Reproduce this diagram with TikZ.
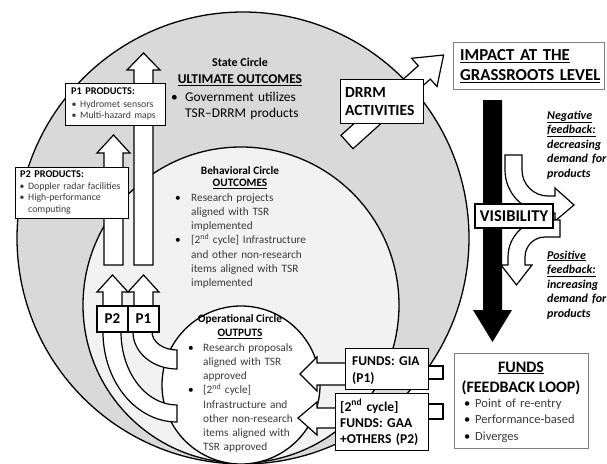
\documentclass[tikz,border=0pt]{standalone}
\usepackage{fontspec}
\setmainfont{Carlito}
\definecolor{outergray}{HTML}{D9D9D9}
\definecolor{behgray}{HTML}{F2F2F2}
\definecolor{bodytext}{HTML}{3A3A3A}
\definecolor{framegray}{HTML}{808080}
\begin{document}
\begin{tikzpicture}[x=1pt,y=-1pt,line join=miter,
  ol/.style={draw=black,line width=1.2pt},
  wbox/.style={ol,fill=white},
  gbox/.style={draw=framegray,line width=0.9pt,fill=white},
  emptybox/.style={wbox,inner sep=0pt,anchor=north west},
  txt/.style={inner sep=0pt,anchor=base west,align=left,text width=#1},
  txt/.default=150pt,
  ctxt/.style={inner sep=0pt,anchor=base},
  body/.style={font=\fontsize{11.3}{14.15}\selectfont,text=bodytext},
  ctitle/.style={font=\bfseries\fontsize{11.3}{14}\selectfont}]
\useasboundingbox (0,0) rectangle (607,463);
\clip (0,0) rectangle (607,463);

% circles
\path[ol,line width=1.3pt,fill=outergray] (243,238) circle[radius=226];
\path[ol,line width=1.3pt,fill=behgray] (241,305) circle[radius=158];
\path[ol,line width=1.3pt,fill=white] (241,385) circle[radius=79];

% tall product arrows
\path[wbox] (104,265) -- (104,153) -- (97,153) -- (113.5,135) -- (130,153) -- (123,153) -- (123,265) -- cycle;
\path[wbox] (134,265) -- (134,70) -- (127,70) -- (143.5,53) -- (160,70) -- (153,70) -- (153,265) -- cycle;

% product boxes
\node[emptybox,minimum width=100pt,minimum height=42pt] (p1box) at (65,83) {};
\node[emptybox,minimum width=113pt,minimum height=51pt] (p2box) at (15,167) {};
\node[txt=95pt,font=\bfseries\fontsize{10.3}{11}\selectfont] (p1title) at (71,94) {P1 PRODUCTS:};
\node[txt=95pt,font=\fontsize{9.8}{11}\selectfont,text=bodytext] (p1list) at (71.5,107) {\makebox[8.5pt][l]{•}Hydromet sensors\\\makebox[8.5pt][l]{•}Multi-hazard maps};
\node[txt=110pt,font=\bfseries\fontsize{10.3}{11}\selectfont] (p2title) at (20,177) {P2 PRODUCTS:};
\node[txt=110pt,font=\fontsize{9.8}{11.6}\selectfont,text=bodytext] (p2list) at (19.5,189) {\makebox[8.5pt][l]{•}Doppler radar facilities\\\makebox[8.5pt][l]{•}High-performance\\\hspace*{8.5pt}computing};

% curved bands from the operational circle
\path[wbox] (103,332) arc[start angle=180,end angle=90,x radius=74,y radius=90] -- (177,405) arc[start angle=90,end angle=180,x radius=56,y radius=73] -- cycle;
\path[wbox] (133,332) arc[start angle=180,end angle=90,x radius=44,y radius=37] -- (177,350) arc[start angle=90,end angle=180,x radius=25,y radius=18] -- cycle;

% small arrows above P boxes
\path[wbox] (103,306) -- (103,292) -- (97,292) -- (112.5,275) -- (128,292) -- (122,292) -- (122,306) -- cycle;
\path[wbox] (134,306) -- (134,292) -- (128,292) -- (143.5,275) -- (159,292) -- (153,292) -- (153,306) -- cycle;
\node[wbox,inner sep=0pt,minimum width=31pt,minimum height=26pt,font=\bfseries\fontsize{15}{16}\selectfont] (p2) at (112.5,319) {P2};
\node[wbox,inner sep=0pt,minimum width=31pt,minimum height=26pt,font=\bfseries\fontsize{15}{16}\selectfont] (p1) at (143.5,319) {P1};

% DRRM arrow and box
\begin{scope}[shift={(347,142)},rotate=42]
\path[wbox] (0,-9) -- (104,-9) -- (104,-19) -- (130,0) -- (104,19) -- (104,9) -- (0,9) -- cycle;
\end{scope}
\node[emptybox,minimum width=83pt,minimum height=44pt] (drrm) at (340,79) {};
\node[txt=80pt,font=\bfseries\fontsize{15.5}{18}\selectfont] (drrmtext) at (345,97) {DRRM\\ACTIVITIES};

% impact box
\node[gbox,inner sep=0pt,anchor=north west,minimum width=151pt,minimum height=47pt] (impact) at (453,42) {};
\node[txt=150pt,font=\bfseries\fontsize{16.8}{20}\selectfont] (impacttext) at (460,60.5) {\underline{IMPACT AT THE}\\\underline{GRASSROOTS LEVEL}};

% black arrow
\path[fill=black] (483,100) -- (502,100) -- (502,310) -- (512,310) -- (492.5,342) -- (473,310) -- (483,310) -- cycle;

% feedback arrows
\path[wbox] (505,155) -- (505,170) arc[start angle=180,end angle=90,radius=43] -- (555,213) -- (555,221) -- (574,205) -- (555,188) -- (555,196) -- (548,196) arc[start angle=90,end angle=180,radius=26] -- (522,155) -- cycle;
\path[wbox] (560,220) -- (545,220) arc[start angle=270,end angle=180,radius=37] -- (508,265) -- (501,265) -- (516.5,285) -- (532,265) -- (525,265) -- (525,257) arc[start angle=180,end angle=270,radius=20] -- (560,237) -- cycle;
\node[wbox,inner sep=0pt,minimum width=78pt,minimum height=24pt,font=\bfseries\fontsize{16.5}{18}\selectfont] (vis) at (514,216) {VISIBILITY};

\node[txt=100pt,font=\bfseries\itshape\fontsize{12}{14.5}\selectfont] (neg) at (547,119) {\underline{Negative}\\\underline{feedback:}\\decreasing\\demand for\\products};
\node[txt=100pt,font=\bfseries\itshape\fontsize{12}{14.5}\selectfont] (pos) at (547,259) {\underline{Positive}\\\underline{feedback:}\\increasing\\demand for\\products};

% funds box
\node[gbox,inner sep=0pt,anchor=north west,minimum width=134pt,minimum height=95pt] (funds) at (454,353) {};
\node[ctxt,font=\bfseries\fontsize{16}{18}\selectfont] (fundstitle) at (521,372) {\underline{FUNDS}};
\node[ctxt,font=\bfseries\fontsize{16}{18}\selectfont] (fundsloop) at (521,392) {(FEEDBACK LOOP)};
\node[txt=125pt,font=\fontsize{12.5}{16.7}\selectfont,text=bodytext] (fundslist) at (464,407) {\makebox[11pt][l]{\textcolor{black}{•}}Point of re-entry\\\makebox[11pt][l]{\textcolor{black}{•}}Performance-based\\\makebox[11pt][l]{\textcolor{black}{•}}Diverges};

% funds arrows and boxes
\path[wbox] (428,366) rectangle (443,379);
\path[wbox] (350,363) -- (317,363) -- (317,357) -- (300,374) -- (317,391) -- (317,385) -- (350,385) -- cycle;
\node[emptybox,minimum width=83pt,minimum height=41pt] (gia) at (345,348) {};
\node[txt=80pt,font=\bfseries\fontsize{13.5}{17.5}\selectfont] (giatext) at (352,365) {FUNDS: GIA\\(P1)};
\path[wbox] (428,404) rectangle (443,419);
\path[wbox] (340,408) -- (317,408) -- (317,402) -- (298,418) -- (317,435) -- (317,428) -- (340,428) -- cycle;
\node[emptybox,minimum width=93pt,minimum height=57pt] (gaa) at (335,393) {};
\node[txt=90pt,font=\bfseries\fontsize{13.5}{16.2}\selectfont] (gaatext) at (340,411) {[2\textsuperscript{nd} cycle]\\FUNDS: GAA\\+OTHERS (P2)};

% state circle text
\node[ctxt,font=\bfseries\fontsize{12}{14}\selectfont] (statetitle) at (240,66) {State Circle};
\node[ctxt,font=\bfseries\fontsize{13.5}{16}\selectfont] (stateout) at (240,83.5) {\underline{ULTIMATE OUTCOMES}};
\node[txt=140pt,font=\fontsize{13.4}{16}\selectfont] (statelist) at (171,101) {\makebox[14pt][l]{•}Government utilizes\\\hspace*{14pt}TSR–DRRM products};

% behavioral circle text
\node[ctxt,ctitle] (behtitle) at (240,174) {Behavioral Circle};
\node[ctxt,ctitle] (behout) at (240,186.6) {\underline{OUTCOMES}};
\node[txt=150pt,body] (behlist) at (175,201.5) {\makebox[16pt][l]{\textcolor{black}{•}}Research projects\\\hspace*{16pt}aligned with TSR\\\hspace*{16pt}implemented\\\makebox[16pt][l]{\textcolor{black}{•}}[2\textsuperscript{nd} cycle] Infrastructure\\\hspace*{16pt}and other non-research\\\hspace*{16pt}items aligned with TSR\\\hspace*{16pt}implemented};

% operational circle text
\node[ctxt,ctitle] (optitle) at (240,322.5) {Operational Circle};
\node[ctxt,ctitle] (opout) at (240,336.5) {\underline{OUTPUTS}};
\node[txt=120pt,body] (oplist) at (188,351.5) {\makebox[15pt][l]{\textcolor{black}{•}}Research proposals\\\hspace*{15pt}aligned with TSR\\\hspace*{15pt}approved\\\makebox[15pt][l]{\textcolor{black}{•}}[2\textsuperscript{nd} cycle]\\\hspace*{15pt}Infrastructure and\\\hspace*{15pt}other non-research\\\hspace*{15pt}items aligned with\\\hspace*{15pt}TSR approved};
\end{tikzpicture}
\end{document}
